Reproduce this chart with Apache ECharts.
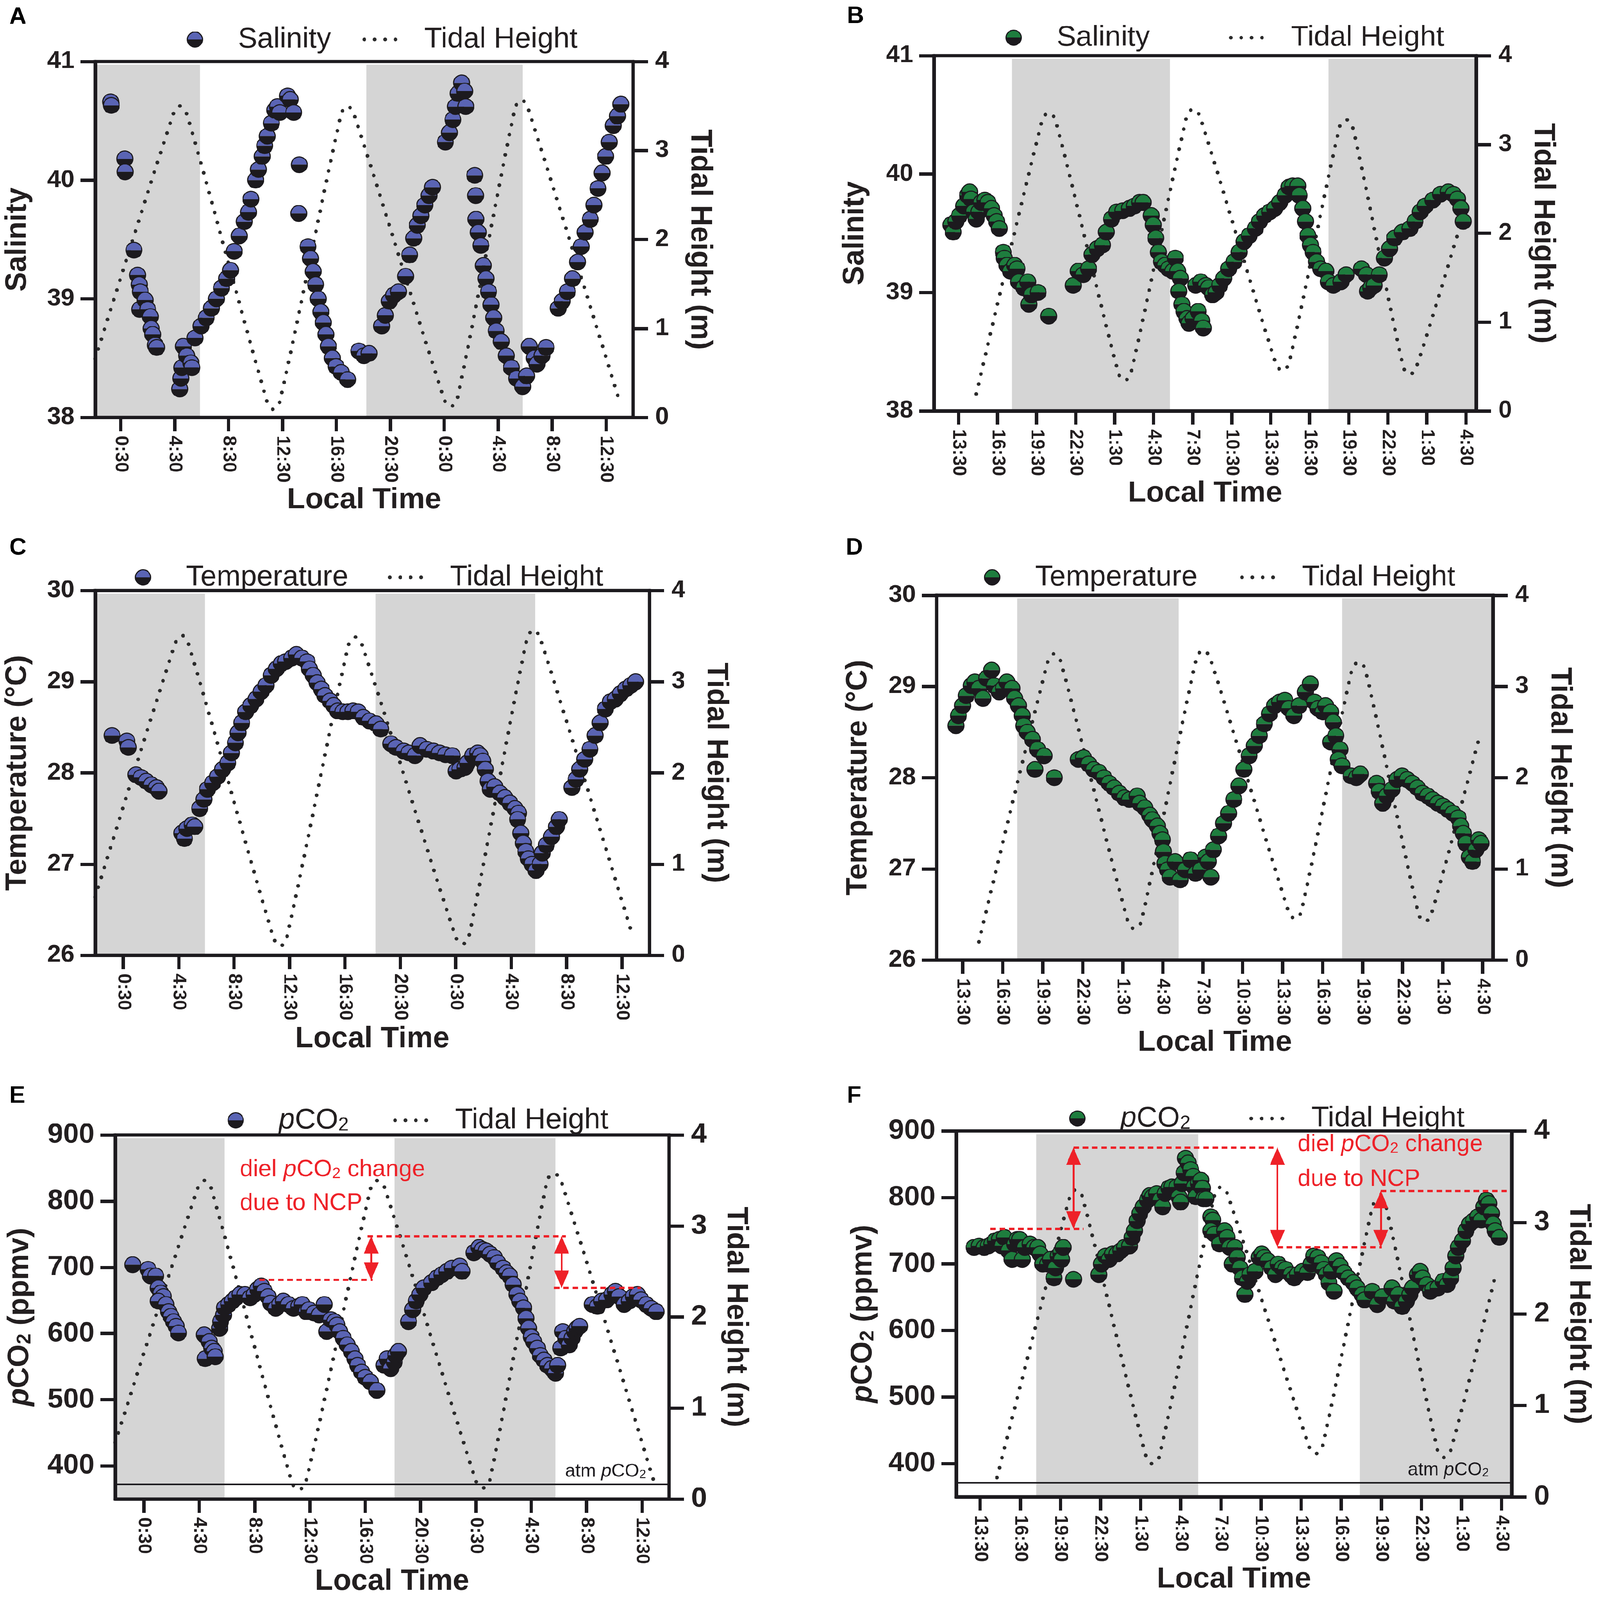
<!DOCTYPE html>
<html>
<head>
<meta charset="utf-8">
<script src="https://cdn.jsdelivr.net/npm/echarts@6/dist/echarts.min.js"></script>
<style>
  html, body { margin: 0; padding: 0; background: #fff; overflow: hidden; }
  #page { width: 4317px; height: 4373px; position: absolute; left: 0; top: 0; transform-origin: 0 0; }
  .panel { position: absolute; }
</style>
</head>
<body>
<div id="page"></div>
<script>
// ---------- data (hours counted from 0:00 of the first day) ----------
const ticksNight = [0.5, 4.5, 8.5, 12.5, 16.5, 20.5, 24.5, 28.5, 32.5, 36.5];
const ticksDay = [13.5, 16.5, 19.5, 22.5, 25.5, 28.5, 31.5, 34.5, 37.5, 40.5, 43.5, 46.5, 49.5, 52.5];
const salTicks = [38, 39, 40, 41];
const tempTicks = [26, 27, 28, 29, 30];
const pco2Ticks = [400, 500, 600, 700, 800, 900];
const tideTicks = [0, 1, 2, 3, 4];

const salinityA = [[-0.25,40.66],[-0.2,40.63],[0.8,40.18],[0.82,40.07],[1.48,39.41],[1.75,39.2],[1.87,39.12],[1.95,39.06],[1.9,38.91],
  [2.31,38.99],[2.5,38.91],[2.7,38.85],[2.76,38.75],[2.87,38.7],[3.06,38.61],[3.17,38.59],
  [4.88,38.24],[4.96,38.33],[5.03,38.42],[5.14,38.6],[5.4,38.52],[5.7,38.46],[5.78,38.42],
  [6.01,38.67],[6.46,38.77],[6.84,38.84],[7.22,38.92],[7.6,39.0],[7.97,39.09],[8.35,39.17],[8.65,39.24],
  [8.91,39.4],[9.29,39.53],[9.67,39.65],[9.97,39.73],[10.16,39.84],[10.5,40.0],[10.72,40.09],[10.99,40.2],[11.18,40.29],[11.37,40.37],[11.67,40.48],[11.93,40.59],[12.12,40.62],[12.3,40.57],[12.88,40.71],[13.07,40.68],[13.33,40.57],
  [13.74,40.13],[13.7,39.72],
  [14.39,39.44],[14.58,39.34],[14.77,39.23],[14.96,39.12],[15.15,39.0],[15.34,38.89],[15.53,38.8],[15.72,38.7],[15.9,38.6],[16.2,38.5],[16.47,38.43],[16.85,38.38],[17.33,38.32],
  [18.16,38.56],[18.54,38.52],[18.92,38.54],
  [19.86,38.77],[20.12,38.86],[20.43,38.98],[20.73,39.03],[21.1,39.06],
  [21.63,39.19],[21.93,39.37],[22.23,39.51],[22.5,39.62],[22.76,39.7],[23.06,39.79],[23.36,39.87],[23.63,39.94],
  [24.58,40.32],[24.88,40.4],[25.14,40.51],[25.33,40.62],[25.52,40.73],[25.79,40.82],[26.01,40.75],[26.09,40.62],
  [26.76,40.04],[26.83,39.87],[26.85,39.67],
  [27.02,39.56],[27.21,39.45],[27.4,39.28],[27.59,39.17],[27.78,39.06],[27.97,38.95],[28.16,38.84],[28.35,38.73],[28.72,38.64],[29.1,38.52],[29.48,38.42],[29.86,38.33],[30.31,38.26],[30.61,38.35],
  [30.8,38.6],[31.18,38.5],[31.37,38.45],[31.75,38.52],[32.05,38.59],
  [32.95,38.92],[33.25,38.98],[33.63,39.06],[34.01,39.17],[34.39,39.31],[34.65,39.44],[34.95,39.56],[35.33,39.67],[35.6,39.79],[35.9,39.93],[36.2,40.06],[36.47,40.2],[36.73,40.32],[37.04,40.46],[37.34,40.54],[37.6,40.64]];

const salinityB = [[12.91,39.57],[13.1,39.51],[13.3,39.6],[13.58,39.65],[13.9,39.73],[14.2,39.82],[14.36,39.85],[14.47,39.79],[14.67,39.68],[14.87,39.62],[15.06,39.68],[15.26,39.76],[15.53,39.78],[15.77,39.76],[16.04,39.71],[16.24,39.65],[16.44,39.6],[16.64,39.54],
  [16.95,39.34],[17.03,39.29],[17.23,39.23],[17.5,39.18],[17.82,39.23],[18.01,39.2],[18.13,39.09],[18.52,39.04],[18.83,39.09],[18.91,38.9],[19.11,38.98],[19.62,39.0],[20.44,38.8],
  [22.32,39.06],[22.71,39.18],[23.1,39.15],[23.5,39.2],[23.77,39.32],[24.17,39.37],[24.56,39.4],[24.87,39.51],[25.26,39.62],[25.66,39.68],[26.13,39.69],[26.64,39.71],[27.03,39.73],[27.42,39.76],[27.7,39.76],
  [28.32,39.65],[28.47,39.57],[28.67,39.46],[28.87,39.34],[29.1,39.26],[29.38,39.23],[29.65,39.2],[29.97,39.18],[30.17,39.29],[30.36,39.18],[30.56,39.12],[30.44,39.01],[30.67,38.9],[30.83,38.84],[31.07,38.78],[31.22,38.74],[31.54,38.78],[31.93,38.84],[32.2,38.76],[32.32,38.7],
  [31.74,39.06],[32.13,39.09],[32.52,39.06],[32.72,39.04],[33.03,38.98],[33.3,39.0],[33.58,39.06],[33.89,39.12],[34.28,39.2],[34.68,39.26],[35.07,39.34],[35.46,39.43],[35.85,39.48],[36.32,39.54],[36.64,39.6],[37.03,39.65],[37.42,39.68],[37.81,39.71],[38.2,39.76],[38.6,39.82],[38.91,39.89],[39.19,39.9],[39.58,39.9],[39.7,39.82],[39.97,39.71],[40.17,39.6],[40.36,39.48],[40.56,39.4],[40.76,39.34],[41.03,39.26],[41.34,39.2],[41.74,39.18],[41.93,39.09],[42.32,39.06],[42.9,39.09],[43.3,39.15],
  [44.48,39.2],[44.87,39.15],[44.95,39.01],[45.19,39.04],[45.46,39.06],[45.85,39.15],[46.24,39.29],[46.64,39.37],[47.03,39.46],[47.62,39.51],[48.21,39.54],[48.6,39.6],[48.99,39.68],[49.38,39.73],[49.97,39.78],[50.56,39.83],[51.15,39.85],[51.54,39.83],[51.85,39.79],[52.13,39.71],[52.3,39.6]];

const temperatureC = [[-0.31,28.41],[0.76,28.35],[0.87,28.28],
  [1.42,27.98],[1.79,27.95],[2.16,27.91],[2.53,27.87],[2.9,27.84],[3.08,27.8],
  [4.73,27.34],[4.92,27.28],[5.1,27.39],[5.47,27.43],[5.66,27.41],
  [6.02,27.61],[6.32,27.71],[6.58,27.82],[6.95,27.89],[7.31,27.96],[7.68,28.04],[8.05,28.11],[8.31,28.22],[8.6,28.33],[8.79,28.44],[9.05,28.55],[9.34,28.67],[9.71,28.74],[10.08,28.81],[10.45,28.89],[10.81,28.96],[11.18,29.07],[11.55,29.14],[11.92,29.2],[12.21,29.22],[12.66,29.26],[13.0,29.3],[13.4,29.26],[13.77,29.22],[13.95,29.14],[14.21,29.07],[14.5,28.99],[14.8,28.92],[15.06,28.85],[15.43,28.79],[15.69,28.74],[15.98,28.68],[16.35,28.67],[16.72,28.67],[17.09,28.68],[17.46,28.67],[17.83,28.61],[18.27,28.57],[18.75,28.54],[19.09,28.48],
  [19.82,28.32],[20.19,28.28],[20.75,28.24],[21.12,28.22],[21.56,28.19],[21.93,28.3],[22.41,28.26],[22.89,28.24],[23.33,28.22],[23.77,28.2],[24.25,28.19],[24.53,28.02],[24.8,28.04],[25.17,28.06],[25.35,28.11],[25.72,28.19],[26.09,28.22],[26.27,28.19],[26.46,28.13],[26.64,28.04],[26.83,27.91],[27.01,27.82],[27.31,27.85],[27.68,27.78],[28.05,27.73],[28.41,27.67],[28.78,27.61],[29.04,27.56],[28.97,27.49],
  [29.2,27.34],[29.38,27.23],[29.56,27.14],[29.75,27.06],[30.01,27.0],[30.3,26.93],[30.6,27.0],[30.75,27.12],[31.04,27.21],[31.41,27.3],[31.78,27.41],[31.97,27.49],
  [32.89,27.84],[33.19,27.93],[33.45,28.04],[33.82,28.15],[34.19,28.26],[34.56,28.41],[34.93,28.55],[35.3,28.7],[35.66,28.78],[36.03,28.81],[36.4,28.87],[36.77,28.92],[37.14,28.96],[37.49,29.0]];

const temperatureD = [[13.0,28.57],[13.19,28.68],[13.5,28.79],[13.77,28.9],[14.15,29.01],[14.42,29.05],[14.72,28.98],[15.03,28.87],[15.3,29.09],[15.68,29.18],[15.87,29.01],[16.25,28.94],[16.56,28.98],[16.82,29.05],[17.21,28.98],[17.4,28.87],[17.7,28.79],[17.97,28.68],[18.08,28.57],[18.35,28.5],
  [18.74,28.42],[18.93,28.09],[19.12,28.31],[19.61,28.24],[20.38,28.0],
  [22.18,28.2],[22.57,28.22],[22.95,28.15],[23.33,28.09],[23.72,28.06],[24.1,28.0],[24.48,27.94],[24.86,27.89],[25.25,27.83],[25.63,27.78],[26.01,27.76],[26.59,27.8],[26.78,27.72],[27.16,27.67],[27.54,27.59],[27.73,27.54],[28.11,27.47],[28.3,27.39],[28.49,27.32],[28.57,27.19],
  [28.68,27.06],[28.87,26.99],[29.06,26.91],[29.44,27.08],[29.82,26.88],[30.2,26.99],[30.59,27.1],[30.97,26.95],[31.35,26.99],[31.73,27.13],[32.12,26.91],
  [31.93,27.08],[32.31,27.21],[32.69,27.36],[33.07,27.5],[33.46,27.61],[33.84,27.76],[34.22,27.91],[34.6,28.09],[34.99,28.24],[35.37,28.35],[35.75,28.46],[36.13,28.59],[36.51,28.7],[36.9,28.79],[37.28,28.83],[37.67,28.85],[37.97,28.76],[38.35,28.68],[38.74,28.79],[39.2,28.94],[39.58,29.03],[39.89,28.83],[40.15,28.76],[40.53,28.72],[40.72,28.79],[41.11,28.72],[41.3,28.61],[41.11,28.39],[41.49,28.46],[41.8,28.31],[41.68,28.2],[41.95,28.13],
  [42.64,28.02],[43.03,28.0],[43.33,28.04],[44.55,27.94],[44.74,27.85],[45.01,27.72],[45.31,27.8],[45.69,27.87],[46.08,27.98],[46.46,28.02],[46.84,27.98],[47.22,27.94],[47.61,27.89],[47.99,27.83],[48.37,27.8],[48.75,27.76],[49.14,27.72],[49.52,27.69],[49.9,27.65],[50.28,27.61],[50.67,27.56],[50.86,27.47],[51.05,27.39],[51.24,27.28],[51.51,27.13],[51.74,27.08],[52.0,27.21],[52.2,27.32],[52.39,27.28]];

const pco2E = [[-0.31,704],[0.8,697],[0.98,687],[1.35,687],[1.54,669],[1.72,661],[1.91,656],[1.54,649],[2.09,644],[2.28,633],[2.46,626],[2.65,618],[2.83,611],[3.0,601],
  [4.86,598],[4.93,562],[5.22,588],[5.4,578],[5.59,573],[5.66,565],
  [5.97,608],[6.04,618],[6.26,628],[6.33,639],[6.63,644],[6.89,649],[7.15,654],[7.44,659],[7.81,659],[8.18,654],[8.47,659],[8.73,667],[8.99,672],[9.21,664],[9.47,656],[9.66,646],[10.03,638],[10.32,644],[10.58,649],[10.95,644],[11.32,638],[11.69,641],[11.95,644],[12.24,633],[12.43,636],[12.8,631],[13.17,628],[13.54,644],[13.72,603],[14.02,621],[14.28,618],[14.46,613],[14.65,603],[14.91,593],[15.2,583],[15.5,573],[15.76,562],[15.95,552],[16.24,542],[16.5,534],[16.87,527],[17.34,514],
  [17.86,552],[18.08,562],[18.34,547],[18.6,557],[18.71,567],[18.9,573],
  [19.63,618],[19.93,636],[20.19,649],[20.45,659],[20.74,669],[21.3,677],[21.67,684],[22.04,689],[22.41,694],[22.78,699],[23.33,702],[23.5,694],
  [24.35,722],[24.72,730],[24.98,727],[25.24,725],[25.54,720],[25.83,715],[26.09,707],[26.46,699],[26.72,692],[26.94,687],[27.2,674],[27.46,659],[27.68,649],[27.94,639],[28.13,623],[28.31,608],[28.5,595],[28.68,588],[28.94,578],[29.16,567],[29.42,560],[29.68,552],[29.98,547],[30.26,540],[30.41,552],[30.63,578],[30.78,603],[31.0,593],[31.26,583],[31.45,593],[31.63,603],[31.82,608],[32.0,611],
  [32.92,644],[33.29,641],[33.59,649],[33.96,651],[34.33,659],[34.59,664],[34.85,656],[35.22,644],[35.59,649],[35.88,656],[36.18,659],[36.44,651],[36.81,644],[37.18,638],[37.54,633]];

const pco2F = [[13.04,725],[13.42,727],[13.8,725],[14.1,727],[14.37,730],[14.63,735],[14.94,737],[15.13,727],[15.32,740],[15.62,720],[15.89,707],[16.08,730],[16.27,737],[16.46,737],[16.65,707],[16.84,725],[17.23,730],[17.53,725],[17.8,725],[17.99,715],[18.18,700],[18.56,700],[18.75,707],[19.02,679],[19.14,694],[19.33,712],[19.52,717],[19.6,707],[19.71,725],[20.48,677],
  [22.38,684],[22.57,700],[22.88,712],[23.15,707],[23.41,715],[23.72,715],[24.02,720],[24.29,725],[24.67,727],[24.86,740],[25.05,750],[25.24,765],[25.43,776],[25.7,786],[26.01,796],[26.2,803],[26.39,801],[26.7,806],[26.96,796],[27.15,786],[27.34,806],[27.61,814],[27.84,816],[28.22,816],[28.37,801],[28.49,793],[28.6,821],[28.75,837],[28.86,859],[29.05,852],[29.24,842],[29.43,832],[29.51,816],[29.63,801],[29.82,821],[30.01,826],[30.12,814],[30.2,798],[30.39,798],[30.75,771],[30.9,766],[30.75,750],[31.02,745],[31.4,730],[31.78,750],[31.97,740],[32.16,725],[32.35,700],[32.54,725],[32.73,710],[32.92,694],[33.11,679],[33.3,654],[33.49,674],[33.68,684],[34.06,689],[34.37,710],[34.56,715],[34.75,710],[35.01,705],[35.32,694],[35.59,684],[35.78,700],[36.08,694],[36.35,692],[36.73,684],[36.99,679],[37.22,684],[37.6,689],[37.98,687],[38.25,700],[38.44,712],[38.75,710],[39.01,702],[39.2,692],[39.39,684],[39.58,672],[39.96,659],[39.77,689],[40.15,705],[40.42,697],[40.72,687],[41.03,679],[41.41,672],[41.68,664],[42.06,654],[42.25,646],[42.82,659],[43.2,639],[43.58,651],
  [44.3,664],[44.49,644],[44.76,654],[45.07,636],[45.37,644],[45.64,654],[45.83,664],[46.21,684],[46.4,689],[46.59,679],[46.9,669],[47.17,659],[47.36,662],[47.74,664],[48.12,674],[48.43,669],[48.69,679],[48.88,694],[49.07,712],[49.26,725],[49.57,735],[49.83,750],[50.1,760],[50.4,765],[50.71,771],[50.98,766],[51.17,786],[51.36,796],[51.55,791],[51.74,776],[51.86,760],[52.01,750],[52.32,740]];

const tideA = [[-1.39,0.66],[4.4,3.41],[4.88,3.5],[5.4,3.41],[11.35,0.18],[11.82,0.09],[12.3,0.18],[16.85,3.41],[17.33,3.5],[17.8,3.41],[24.5,0.2],[24.95,0.12],[25.45,0.2],[29.75,3.48],[30.24,3.57],[30.7,3.48],[37.48,0.19]];
const tideB = [[14.87,0.19],[19.95,3.28],[20.44,3.36],[20.95,3.28],[25.8,0.42],[26.28,0.34],[26.75,0.42],[31.05,3.32],[31.54,3.4],[32.05,3.32],[37.9,0.53],[38.4,0.45],[38.9,0.53],[42.8,3.2],[43.3,3.28],[43.8,3.2],[47.7,0.49],[48.2,0.41],[48.7,0.49],[52.3,2.2]];
const tideC = [[-1.52,0.64],[4.25,3.42],[4.73,3.51],[5.2,3.42],[11.35,0.19],[11.84,0.1],[12.3,0.19],[16.75,3.4],[17.25,3.49],[17.75,3.4],[24.5,0.2],[24.98,0.12],[25.45,0.2],[29.65,3.48],[30.13,3.57],[30.6,3.48],[37.3,0.2]];
const tideD = [[14.72,0.2],[19.9,3.28],[20.38,3.36],[20.85,3.28],[25.9,0.42],[26.39,0.34],[26.9,0.42],[31.05,3.32],[31.55,3.4],[32.05,3.32],[37.95,0.53],[38.43,0.45],[38.9,0.53],[42.7,3.19],[43.21,3.27],[43.7,3.19],[47.7,0.5],[48.18,0.42],[48.65,0.5],[52.28,2.46]];
const tideE = [[-1.57,0.62],[4.4,3.42],[4.86,3.5],[5.35,3.42],[11.2,0.18],[11.69,0.1],[12.2,0.18],[16.9,3.42],[17.4,3.5],[17.9,3.42],[24.5,0.2],[25.0,0.12],[25.5,0.2],[29.65,3.5],[30.15,3.58],[30.65,3.5],[37.35,0.2]];
const tideF = [[14.76,0.21],[20.2,3.28],[20.67,3.36],[21.15,3.28],[25.9,0.44],[26.39,0.36],[26.9,0.44],[31.05,3.31],[31.53,3.39],[32.0,3.31],[38.1,0.55],[38.59,0.47],[39.1,0.55],[42.85,3.18],[43.35,3.26],[43.85,3.18],[47.7,0.51],[48.19,0.43],[48.7,0.51],[52.12,2.47]];

// night shading (start, end)
const nightA = [[-1.39,6.39],[18.73,30.31]];
const nightB = [[17.62,29.77],[41.93,53.2]];
const nightC = [[-1.52,6.39],[18.72,30.24]];
const nightD = [[17.59,29.71],[41.95,53.2]];
const nightE = [[-1.57,6.33],[18.63,30.26]];
const nightF = [[17.69,29.82],[41.9,53.2]];

// diel pCO2 change annotations
const atmE = 372;
const atmF = 371;
const ncpDashE = [[[8.85,681],[17.04,681]], [[16.67,747],[31.0,747]], [[30.15,669],[36.43,669]]];
const ncpArrowE = [[[16.93,734],[16.93,694]], [[30.7,734],[30.7,682]]];
const ncpDashF = [[[14.26,753],[21.24,753]], [[20.48,875],[35.73,875]], [[35.73,725],[43.54,725]], [[43.47,810],[52.88,810]]];
const ncpArrowF = [[[20.48,862],[20.48,766]], [[35.73,862],[35.73,738]], [[43.47,738],[43.47,797]]];

// ---------- styling ----------
const FONT = '"Liberation Sans", Arial, sans-serif';
const INK = '#1c1a1e';
const TXT = '#231f20';
const BLUE = '#5a64b4';
const GREEN = '#1e7d3e';
const NIGHT = '#d5d5d5';
const RED = '#ee2128';
const DOT_R = 21.5;
const AXIS_W = 9;

function richSub(size, weight, color) {
  return {
    i: { fontStyle: 'italic', fontWeight: weight, fontSize: size, fontFamily: FONT, color: color },
    s: { fontWeight: weight, fontSize: Math.round(size * 0.66), fontFamily: FONT, color: color,
         verticalAlign: 'bottom', lineHeight: Math.round(size * 0.44) }
  };
}

function svgIcon(svg) {
  return 'image://data:image/svg+xml;charset=utf-8,' + encodeURIComponent(svg);
}
function dotIcon(fill) {
  return svgIcon('<svg xmlns="http://www.w3.org/2000/svg" width="135" height="44">' +
    '<path d="M2.5 22A21.5 21.5 0 0 1 45.5 22Z" fill="' + fill + '"/>' +
    '<path d="M2.5 22A21.5 21.5 0 0 0 45.5 22Z" fill="' + INK + '"/>' +
    '<circle cx="24" cy="22" r="20.5" fill="none" stroke="' + INK + '" stroke-width="3"/></svg>');
}
const tideIcon = svgIcon('<svg xmlns="http://www.w3.org/2000/svg" width="170" height="44">' +
  '<circle cx="13" cy="22" r="5" fill="#2b2b2b"/><circle cx="41" cy="22" r="5" fill="#2b2b2b"/>' +
  '<circle cx="69" cy="22" r="5" fill="#2b2b2b"/><circle cx="97" cy="22" r="5" fill="#2b2b2b"/></svg>');

function hourLabel(v) {
  return (Math.round(v - 0.5) % 24) + ':30';
}

const panels = [
  { letter: 'A', box: [0, 0, 2158, 1457], grid: [251, 168, 1457, 973], name: 'Salinity', yName: 'Salinity',
    fill: BLUE, dots: salinityA, tide: tideA, nights: nightA, x: [-1.39, 38.5], xTicks: ticksNight,
    y: [38, 41], yTicks: salTicks, tickFont: 66, gaps: [169, 140, 179], leg: [502, 970, 69], letterPos: [25, 15] },
  { letter: 'B', box: [2158, 0, 2159, 1457], grid: [362, 152, 1463, 971], name: 'Salinity', yName: 'Salinity',
    fill: GREEN, dots: salinityB, tide: tideB, nights: nightB, x: [11.62, 53.3], xTicks: ticksDay,
    y: [38, 41], yTicks: salTicks, tickFont: 66, gaps: [173, 140, 179], leg: [553, 1150, 64], letterPos: [127, 13] },
  { letter: 'C', box: [0, 1457, 2158, 1470], grid: [255, 157, 1497, 997], name: 'Temperature', yName: 'Temperature (°C)',
    fill: BLUE, dots: temperatureC, tide: tideC, nights: nightC, x: [-1.52, 38.48], xTicks: ticksNight,
    y: [26, 30], yTicks: tempTicks, tickFont: 66, gaps: [169, 140, 189], leg: [362, 1039, 82], letterPos: [25, 9] },
  { letter: 'D', box: [2158, 1457, 2159, 1470], grid: [369, 170, 1501, 997], name: 'Temperature', yName: 'Temperature (°C)',
    fill: GREEN, dots: temperatureD, tide: tideD, nights: nightD, x: [11.55, 53.27], xTicks: ticksDay,
    y: [26, 30], yTicks: tempTicks, tickFont: 66, gaps: [171, 140, 184], leg: [495, 1180, 82], letterPos: [124, 9] },
  { letter: 'E', box: [0, 2927, 2158, 1446], grid: [311, 175, 1494, 995], name: 'pCO2', yName: '{i|p}CO{s|2} (ppmv)',
    fill: BLUE, dots: pco2E, tide: tideE, nights: nightE, x: [-1.57, 38.46], xTicks: ticksNight,
    y: [350, 900], yTicks: pco2Ticks, tickFont: 76, gaps: [217, 140, 184], leg: [612, 1053, 96], letterPos: [25, 37],
    atm: atmE, dash: ncpDashE, arrows: ncpArrowE, note: [647, 270, 362] },
  { letter: 'F', box: [2158, 2927, 2159, 1446], grid: [422, 164, 1499, 1000], name: 'pCO2', yName: '{i|p}CO{s|2} (ppmv)',
    fill: GREEN, dots: pco2F, tide: tideF, nights: nightF, x: [11.71, 53.26], xTicks: ticksDay,
    y: [350, 900], yTicks: pco2Ticks, tickFont: 76, gaps: [211, 140, 181], leg: [725, 1205, 91], letterPos: [127, 37],
    atm: atmF, dash: ncpDashF, arrows: ncpArrowF, note: [1343, 201, 296] }
];

function dotSeries(p) {
  return {
    type: 'custom', name: p.name, data: p.dots, z: 4,
    xAxisIndex: 0, yAxisIndex: 0,
    encode: { x: 0, y: 1 },
    itemStyle: { color: p.fill },
    renderItem: function (params, api) {
      const c = api.coord([api.value(0), api.value(1)]);
      return {
        type: 'group',
        children: [
          { type: 'sector', shape: { cx: c[0], cy: c[1], r0: 0, r: DOT_R, startAngle: Math.PI, endAngle: Math.PI * 2 }, style: { fill: p.fill } },
          { type: 'sector', shape: { cx: c[0], cy: c[1], r0: 0, r: DOT_R, startAngle: 0, endAngle: Math.PI }, style: { fill: INK } },
          { type: 'circle', shape: { cx: c[0], cy: c[1], r: DOT_R }, style: { fill: 'none', stroke: INK, lineWidth: 3 } }
        ]
      };
    }
  };
}

function buildOption(p) {
  const axisLine = { show: true, onZero: false, lineStyle: { color: INK, width: AXIS_W } };
  const tickStyle = { color: INK, width: AXIS_W };
  const nameStyle = { fontSize: 80, fontWeight: 'bold', fontFamily: FONT, color: TXT };
  const series = [
    {
      type: 'line', name: 'Tidal Height', data: p.tide, yAxisIndex: 1, z: 3,
      symbol: 'none', smooth: 0.3,
      lineStyle: { color: '#2b2b2b', width: 10, type: [0.1, 28], cap: 'round' },
      markArea: {
        silent: true,
        itemStyle: { color: NIGHT },
        data: p.nights.map(n => [{ xAxis: n[0], yAxis: 0 }, { xAxis: n[1], yAxis: 3.965 }])
      }
    },
    dotSeries(p)
  ];
  const graphic = [];
  if (p.atm) {
    series.push({
      type: 'line', data: [], yAxisIndex: 0, silent: true,
      markLine: {
        silent: true, symbol: 'none', animation: false,
        lineStyle: { color: INK, width: 4, type: 'solid' },
        label: {
          show: true, position: 'insideEndTop', distance: [62, 10],
          formatter: 'atm {i|p}CO{s|2}', fontSize: 50, fontFamily: FONT, color: INK,
          rich: richSub(50, 'normal', INK)
        },
        data: [{ yAxis: p.atm }]
      }
    });
    series.push({
      type: 'line', data: [], yAxisIndex: 0, silent: true,
      markLine: {
        silent: true, symbol: 'none', animation: false,
        lineStyle: { color: RED, width: 6, type: [15, 10] },
        label: { show: false },
        data: p.dash.map(s => [{ coord: s[0] }, { coord: s[1] }])
      }
    });
    series.push({
      type: 'line', data: [], yAxisIndex: 0, silent: true,
      markLine: {
        silent: true, symbol: ['triangle', 'triangle'], animation: false,
        lineStyle: { color: RED, width: 5, type: 'solid' },
        itemStyle: { color: RED },
        label: { show: false },
        data: p.arrows.map(s => [
          { coord: s[0], symbol: 'triangle', symbolSize: [40, 48] },
          { coord: s[1], symbol: 'triangle', symbolSize: [40, 48] }
        ])
      }
    });
    const noteStyle = (text) => ({
      text: text, fill: RED, fontSize: 64, fontFamily: FONT, verticalAlign: 'middle', align: 'left',
      rich: {
        i: { fill: RED, fontSize: 64, fontFamily: FONT, fontStyle: 'italic' },
        s: { fill: RED, fontSize: 42, fontFamily: FONT, verticalAlign: 'bottom', lineHeight: 28 }
      }
    });
    graphic.push({ type: 'text', x: p.note[0], y: p.note[1], z: 10, style: noteStyle('diel {i|p}CO{s|2} change') });
    graphic.push({ type: 'text', x: p.note[0], y: p.note[2], z: 10, style: noteStyle('due to NCP') });
  }

  const legendBase = {
    orient: 'horizontal', padding: 0, itemHeight: 44, selectedMode: false,
    textStyle: { fontSize: 78, fontFamily: FONT, color: TXT, rich: richSub(78, 'normal', TXT) }
  };

  return {
    animation: false,
    backgroundColor: '#fff',
    textStyle: { fontFamily: FONT, color: TXT },
    title: {
      text: p.letter, left: p.letterPos[0], top: p.letterPos[1], padding: 0,
      textStyle: { fontSize: 64, fontWeight: 'bold', fontFamily: FONT, color: '#000' }
    },
    legend: [
      Object.assign({}, legendBase, {
        left: p.leg[0], top: p.leg[2], itemWidth: 135,
        data: [{ name: p.name, icon: dotIcon(p.fill) }],
        formatter: n => (n === 'pCO2' ? '{i|p}CO{s|2}' : n)
      }),
      Object.assign({}, legendBase, {
        left: p.leg[1], top: p.leg[2], itemWidth: 170,
        data: [{ name: 'Tidal Height', icon: tideIcon }]
      })
    ],
    grid: {
      left: p.grid[0], top: p.grid[1], width: p.grid[2], height: p.grid[3],
      show: true, backgroundColor: 'transparent', borderColor: INK, borderWidth: AXIS_W, z: 6
    },
    xAxis: {
      type: 'value', min: p.x[0], max: p.x[1], z: 6,
      axisLine: axisLine,
      axisTick: { show: true, length: 38, lineStyle: tickStyle, customValues: p.xTicks },
      axisLabel: { customValues: p.xTicks, rotate: -90, margin: 50, fontSize: 50, fontWeight: 'bold',
                   fontFamily: FONT, color: TXT, formatter: hourLabel },
      splitLine: { show: false },
      name: 'Local Time', nameLocation: 'middle', nameGap: p.gaps[2], nameTextStyle: nameStyle
    },
    yAxis: [
      {
        type: 'value', position: 'left', min: p.y[0], max: p.y[1], z: 6,
        axisLine: axisLine,
        axisTick: { show: true, length: 40, lineStyle: tickStyle, customValues: p.yTicks },
        axisLabel: { customValues: p.yTicks, margin: 56, fontSize: p.tickFont, fontWeight: 'bold', fontFamily: FONT, color: TXT },
        splitLine: { show: false },
        name: p.yName, nameLocation: 'middle', nameRotate: 90, nameGap: p.gaps[0],
        nameTextStyle: Object.assign({ rich: richSub(80, 'bold', TXT) }, nameStyle)
      },
      {
        type: 'value', position: 'right', min: 0, max: 4, z: 6,
        axisLine: axisLine,
        axisTick: { show: true, length: 40, lineStyle: tickStyle, customValues: tideTicks },
        axisLabel: { customValues: tideTicks, margin: 60, fontSize: p.tickFont, fontWeight: 'bold', fontFamily: FONT, color: TXT },
        splitLine: { show: false },
        name: 'Tidal Height (m)', nameLocation: 'middle', nameRotate: -90, nameGap: p.gaps[1],
        nameTextStyle: nameStyle
      }
    ],
    graphic: graphic,
    series: series
  };
}

// the figure is laid out on a 4317 x 4373 sheet and fitted to the actual viewport
const page = document.getElementById('page');
const sx = (window.innerWidth || 4317) / 4317;
const sy = (window.innerHeight || 4373) / 4373;
page.style.transform = 'scale(' + sx + ',' + sy + ')';

panels.forEach(p => {
  const div = document.createElement('div');
  div.className = 'panel';
  div.style.left = p.box[0] + 'px';
  div.style.top = p.box[1] + 'px';
  div.style.width = p.box[2] + 'px';
  div.style.height = p.box[3] + 'px';
  page.appendChild(div);
  const chart = echarts.init(div, null, { renderer: 'canvas' });
  chart.setOption(buildOption(p));
});
</script>
</body>
</html>
